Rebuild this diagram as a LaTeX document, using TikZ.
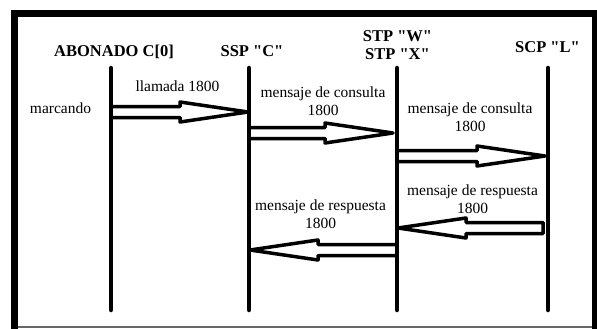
\documentclass[tikz,border=0pt]{standalone}
\usepackage{fontspec}
\setmainfont{Liberation Serif}
\usetikzlibrary{calc}

\begin{document}
\begin{tikzpicture}
	[x=1pt, y=-1pt,
	every node/.style = {inner sep=0pt, align=center, font=\fontsize{15.5}{18}\selectfont},
	titulo/.style = {font=\fontsize{16.5}{18}\selectfont\bfseries},
	linea/.style = {line width=4.5pt, line cap=round},
	flecha/.style = {line width=3.5pt, line join=round,
		to path={let \p1=(\tikztostart), \p2=(\tikztotarget), \n1={sign(\x2-\x1)} in
			-- (\x1,\y1+5.5pt) -- (\x2-68pt*\n1,\y1+5.5pt) -- (\x2-68pt*\n1,\y1+10pt)
			-- (\x2,\y1) -- (\x2-68pt*\n1,\y1-10pt) -- (\x2-68pt*\n1,\y1-5.5pt)
			-- (\x1,\y1-5.5pt) -- cycle}}]
	\useasboundingbox (0,0) rectangle (597,329);
	% marco
	\draw[line width=7pt] (14.3,329) -- (14.3,13.3) -- (597,13.3);
	\draw[line width=7pt] (595.7,13.3) -- (595.7,329);
	\draw[line width=1.5pt, black!60] (18,327) -- (592,327);
	% titulos
	\node[titulo, anchor=base] (abonado) at (114,57) {ABONADO C[0]};
	\node[titulo, anchor=base] (ssp) at (252,57) {SSP \textquotedbl C\textquotedbl};
	\node[titulo, anchor=north] (stp) at (397.5,30.4)
		{STP \textquotedbl W\textquotedbl\\STP \textquotedbl X\textquotedbl};
	\node[titulo, anchor=base] (scp) at (547.5,53) {SCP \textquotedbl L\textquotedbl};
	% lineas de vida
	\foreach \n/\x in {abonado/111, ssp/249, stp/397, scp/548} {
		\coordinate (\n-a) at (\x,68);
		\coordinate (\n-b) at (\x,310);
		\draw[linea] (\n-a) -- (\n-b);
	}
	% mensajes
	\coordinate (m1a) at (abonado-a |- 0,112);
	\coordinate (m1b) at (248,112);
	\coordinate (m2a) at (ssp-a |- 0,133);
	\coordinate (m2b) at (393,133);
	\coordinate (m3a) at (stp-a |- 0,156);
	\coordinate (m3b) at (545,156);
	\coordinate (m4a) at (543,228);
	\coordinate (m4b) at (398,228);
	\coordinate (m5a) at (stp-a |- 0,250);
	\coordinate (m5b) at (250,250);
	\draw[flecha] (m1a) to (m1b);
	\draw[flecha] (m2a) to (m2b);
	\draw[flecha] (m3a) to (m3b);
	\draw[flecha] (m4a) to (m4b);
	\draw[flecha] (m5a) to (m5b);
	% textos
	\node[anchor=base] (marcando) at (60.5,113) {marcando};
	\node[anchor=base] (llamada) at (177.5,92) {llamada 1800};
	\node[anchor=north] (consulta1) at (323,87) {mensaje de consulta\\1800};
	\node[anchor=north] (consulta2) at (470,102.7) {mensaje de consulta\\1800};
	\node[anchor=north] (respuesta1) at (472.5,184.4) {mensaje de respuesta\\1800};
	\node[anchor=north] (respuesta2) at (320.5,199.4) {mensaje de respuesta\\1800};
\end{tikzpicture}
\end{document}
